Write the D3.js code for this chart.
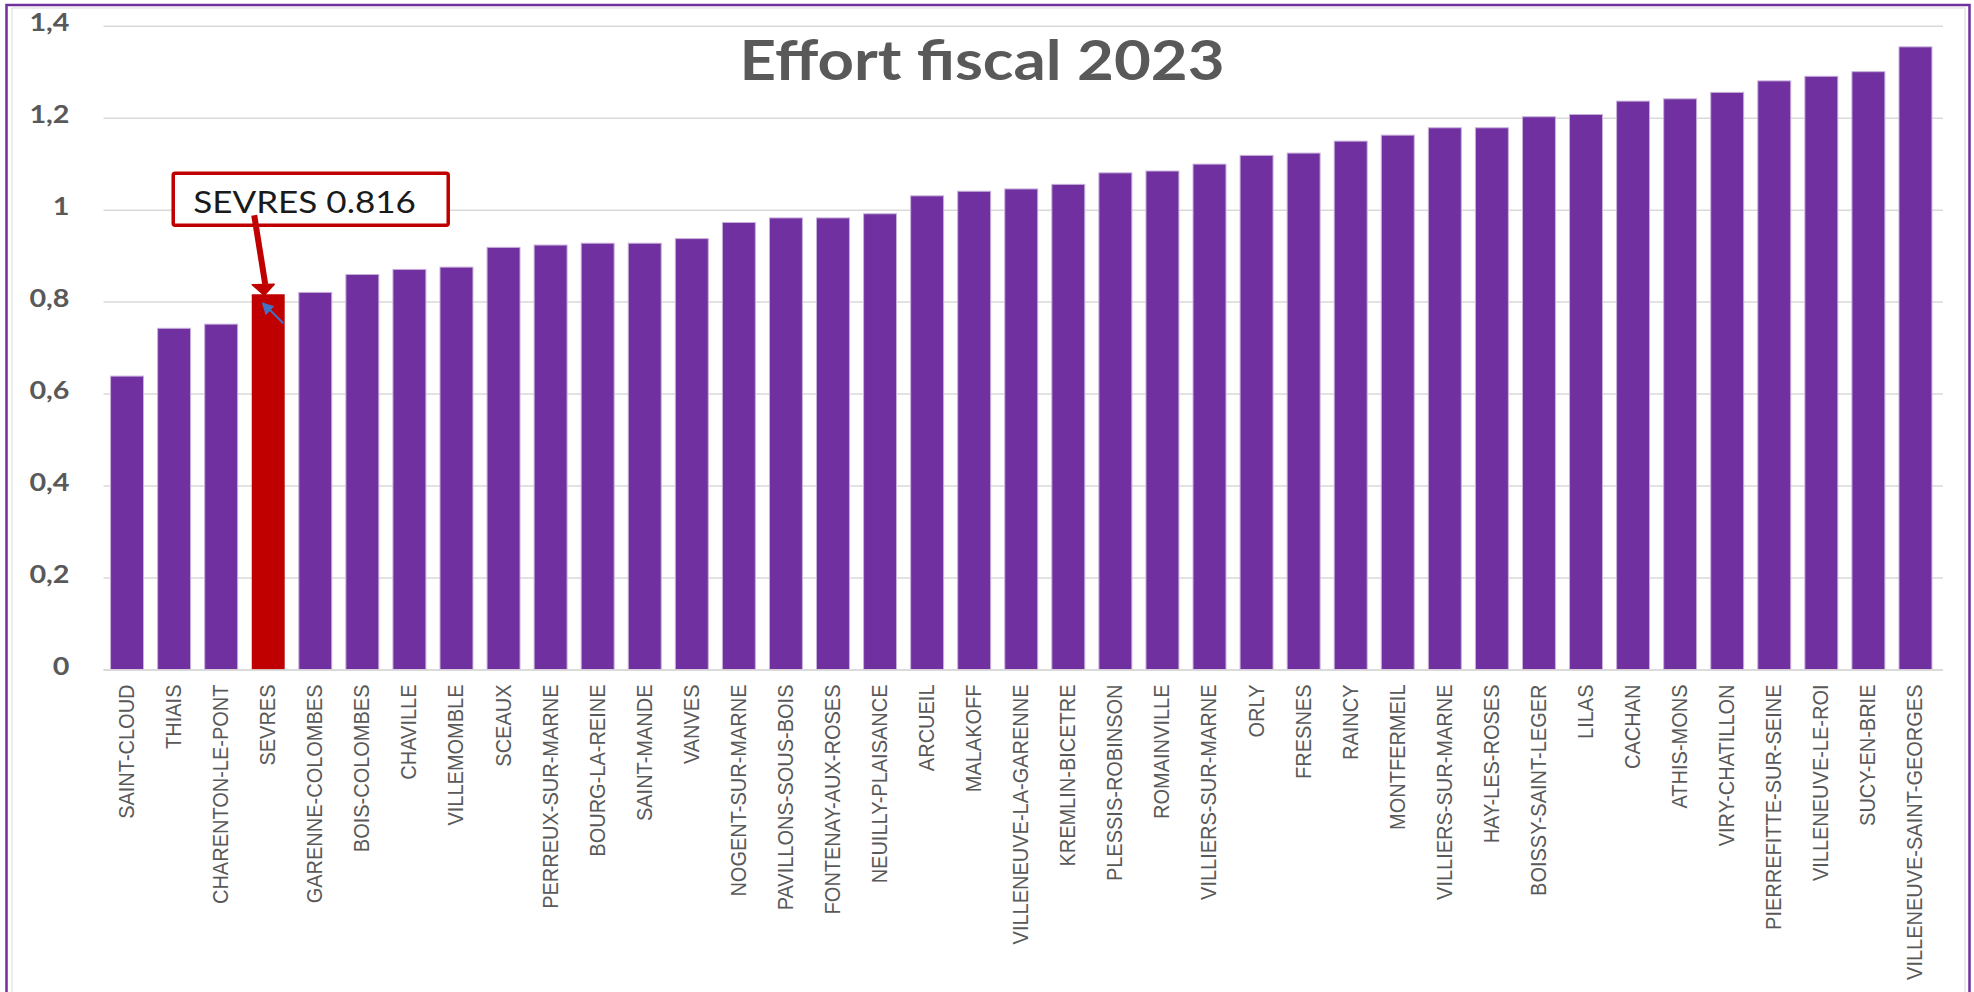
<!DOCTYPE html>
<html>
<head>
<meta charset="utf-8">
<script src="https://cdn.jsdelivr.net/npm/d3@7"></script>
<style>
  html, body { margin: 0; padding: 0; background: #ffffff; }
  svg { display: block; }
</style>
</head>
<body>
<svg id="chart" width="1974" height="992"></svg>
<script>
// Communes, ordered by increasing fiscal effort
const communes = [
  "SAINT-CLOUD", "THIAIS", "CHARENTON-LE-PONT", "SEVRES", "GARENNE-COLOMBES",
  "BOIS-COLOMBES", "CHAVILLE", "VILLEMOMBLE", "SCEAUX", "PERREUX-SUR-MARNE",
  "BOURG-LA-REINE", "SAINT-MANDE", "VANVES", "NOGENT-SUR-MARNE", "PAVILLONS-SOUS-BOIS",
  "FONTENAY-AUX-ROSES", "NEUILLY-PLAISANCE", "ARCUEIL", "MALAKOFF", "VILLENEUVE-LA-GARENNE",
  "KREMLIN-BICETRE", "PLESSIS-ROBINSON", "ROMAINVILLE", "VILLIERS-SUR-MARNE", "ORLY",
  "FRESNES", "RAINCY", "MONTFERMEIL", "VILLIERS-SUR-MARNE", "HAY-LES-ROSES",
  "BOISSY-SAINT-LEGER", "LILAS", "CACHAN", "ATHIS-MONS", "VIRY-CHATILLON",
  "PIERREFITTE-SUR-SEINE", "VILLENEUVE-LE-ROI", "SUCY-EN-BRIE", "VILLENEUVE-SAINT-GEORGES"
];

// Effort fiscal 2023, one value per commune
const effort = [
  0.638, 0.742, 0.751, 0.816, 0.820,
  0.859, 0.870, 0.875, 0.918, 0.923,
  0.927, 0.927, 0.937, 0.972, 0.982,
  0.982, 0.991, 1.030, 1.040, 1.045,
  1.055, 1.080, 1.084, 1.099, 1.118,
  1.123, 1.149, 1.162, 1.178, 1.178,
  1.202, 1.207, 1.236, 1.241, 1.255,
  1.280, 1.290, 1.300, 1.354
];

const highlightIndex = 3;          // SEVRES
const yTickValues = [0, 0.2, 0.4, 0.6, 0.8, 1, 1.2, 1.4];
const yTickLabels = ["0", "0,2", "0,4", "0,6", "0,8", "1", "1,2", "1,4"];
const chartTitle = "Effort fiscal 2023";
const calloutText = "SEVRES " + effort[highlightIndex].toFixed(3);

const PURPLE = "#7030a0";
const RED = "#c00000";
const GREY_TEXT = "#595959";
const GRID = "#d9d9d9";

const svg = d3.select("#chart");

// Frame: purple outer border and a thin grey chart-area border inside it
svg.append("rect")
  .attr("x", 6.5).attr("y", 5).attr("width", 1963).attr("height", 1010)
  .attr("fill", "none").attr("stroke", PURPLE).attr("stroke-width", 2.5);
svg.append("rect")
  .attr("x", 12).attr("y", 8).attr("width", 1953).attr("height", 1010)
  .attr("fill", "none").attr("stroke", GRID).attr("stroke-width", 1);

// Scales
const plot = { left: 103.5, right: 1939, top: 25.7, bottom: 669.5 };
const x = d3.scaleBand()
  .domain(d3.range(communes.length))
  .range([plot.left, plot.right])
  .paddingInner(0.3)
  .paddingOuter(0.15);
const y = d3.scaleLinear().domain([0, 1.4]).range([plot.bottom, plot.top]);

// Helper: widen a text horizontally to the proportions of the original typeface
function widen(sel, k) {
  sel.each(function () {
    const w = this.getComputedTextLength();
    d3.select(this).attr("textLength", w * k).attr("lengthAdjust", "spacingAndGlyphs");
  });
}

// Y axis with gridlines
const yAxis = svg.append("g")
  .attr("transform", `translate(${plot.left},0)`)
  .call(d3.axisLeft(y)
    .tickValues(yTickValues)
    .tickFormat((d, i) => yTickLabels[i])
    .tickSizeInner(-(1943 - plot.left))
    .tickSizeOuter(0)
    .tickPadding(34));
yAxis.select(".domain").remove();
yAxis.selectAll(".tick line").attr("stroke", GRID).attr("stroke-width", 1.5);
yAxis.selectAll(".tick text")
  .attr("fill", GREY_TEXT)
  .attr("font-family", "Lato, 'Open Sans', sans-serif")
  .attr("font-weight", 700)
  .attr("font-size", 25)
  .attr("dy", "0.2em")
  .call(widen, 1.15);

// Bars
svg.append("g")
  .selectAll("rect")
  .data(effort)
  .join("rect")
  .attr("x", (d, i) => x(i))
  .attr("y", d => y(d))
  .attr("width", x.bandwidth())
  .attr("height", d => y(0) - y(d))
  .attr("fill", (d, i) => i === highlightIndex ? RED : PURPLE)
  .attr("stroke", (d, i) => i === highlightIndex ? "none" : "#c7b0da")
  .attr("stroke-width", 1);

// X axis: category names, rotated (scaled across the glyphs for a wider face)
const xAxis = svg.append("g")
  .attr("transform", `translate(0,${plot.bottom})`)
  .call(d3.axisBottom(x)
    .tickFormat(i => communes[i])
    .tickSize(0)
    .tickPadding(0));
xAxis.select(".domain")
  .attr("d", `M${plot.left},0.5H1943`)
  .attr("stroke", GRID).attr("stroke-width", 1.5);
xAxis.selectAll(".tick text")
  .attr("fill", GREY_TEXT)
  .attr("font-family", "'Liberation Sans', Arial, sans-serif")
  .attr("font-size", 20)
  .attr("text-anchor", "end")
  .attr("transform", "rotate(-90) scale(1,1.12)")
  .attr("x", -15)
  .attr("y", -1)
  .attr("dy", "0.36em");

// Title
svg.append("text")
  .attr("x", 982).attr("y", 80)
  .attr("text-anchor", "middle")
  .attr("fill", GREY_TEXT)
  .attr("font-family", "Lato, 'Open Sans', sans-serif")
  .attr("font-weight", 700)
  .attr("font-size", 55)
  .text(chartTitle)
  .attr("textLength", 485)
  .attr("lengthAdjust", "spacingAndGlyphs");

// Callout for the highlighted commune
const bx = x(highlightIndex) + x.bandwidth() / 2;
const by = y(effort[highlightIndex]);
const callout = svg.append("g");

callout.append("rect")
  .attr("x", bx - 95).attr("y", by - 121)
  .attr("width", 275).attr("height", 52)
  .attr("rx", 2)
  .attr("fill", "#ffffff")
  .attr("stroke", RED).attr("stroke-width", 3.5);

callout.append("text")
  .attr("x", bx - 75).attr("y", by - 81)
  .attr("fill", "#1a1a1a")
  .attr("font-family", "Lato, 'Open Sans', sans-serif")
  .attr("font-size", 31)
  .text(calloutText)
  .call(widen, 1.13);

// Red arrow from the box down to the bar top
callout.append("line")
  .attr("x1", bx - 14).attr("y1", by - 79)
  .attr("x2", bx - 3).attr("y2", by - 10)
  .attr("stroke", RED).attr("stroke-width", 6);
callout.append("path")
  .attr("d", `M${bx - 16},${by - 9.5} L${bx + 6},${by - 10} L${bx - 4},${by + 1} Z`)
  .attr("fill", RED)
  .attr("stroke", RED).attr("stroke-width", 1.5).attr("stroke-linejoin", "round");

// Small blue pointer on the bar top
callout.append("line")
  .attr("x1", bx + 15).attr("y1", by + 29)
  .attr("x2", bx + 1).attr("y2", by + 15)
  .attr("stroke", "#4472c4").attr("stroke-width", 1.8);
callout.append("path")
  .attr("d", `M${bx - 6.5},${by + 8} L${bx + 6},${by + 12} L${bx - 2.5},${by + 21} Z`)
  .attr("fill", "#4472c4");
</script>
</body>
</html>
